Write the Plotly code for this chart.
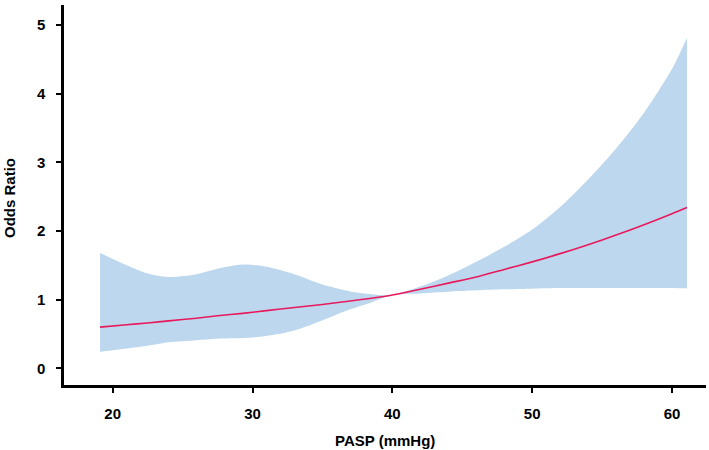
import plotly.graph_objects as go

# Data
pasp = [19.1, 21.0, 22.5, 24.0, 26.0, 27.5, 29.3, 31.0, 33.0, 35.0, 37.0, 38.5, 40.0,
        42.0, 44.0, 46.0, 48.0, 50.0, 52.0, 54.0, 56.0, 58.0, 60.0, 61.07]
odds_ratio = [0.60, 0.635, 0.66, 0.69, 0.73, 0.765, 0.80, 0.84, 0.885, 0.93, 0.98, 1.02, 1.067,
              1.15, 1.24, 1.33, 1.44, 1.55, 1.67, 1.80, 1.94, 2.09, 2.25, 2.34]
upper_ci = [1.68, 1.50, 1.38, 1.33, 1.37, 1.45, 1.51, 1.48, 1.37, 1.22, 1.12, 1.08, 1.067,
            1.19, 1.35, 1.55, 1.77, 2.02, 2.35, 2.75, 3.20, 3.72, 4.36, 4.81]
lower_ci = [0.24, 0.29, 0.33, 0.38, 0.41, 0.43, 0.44, 0.47, 0.55, 0.70, 0.86, 0.96, 1.067,
            1.09, 1.115, 1.135, 1.15, 1.16, 1.168, 1.17, 1.17, 1.17, 1.168, 1.165]

x_ticks = [20, 30, 40, 50, 60]
y_ticks = [0, 1, 2, 3, 4, 5]
x_title = "PASP (mmHg)"
y_title = "Odds Ratio"

band_color = "#BDD8EE"
line_color = "#E8195C"

fig = go.Figure()
fig.add_trace(go.Scatter(x=pasp, y=lower_ci, mode="lines",
                         line=dict(width=0, shape="spline", smoothing=0.8, color=band_color),
                         showlegend=False, hoverinfo="skip"))
fig.add_trace(go.Scatter(x=pasp, y=upper_ci, mode="lines",
                         line=dict(width=0, shape="spline", smoothing=0.8, color=band_color),
                         fill="tonexty", fillcolor=band_color, showlegend=False, hoverinfo="skip"))
fig.add_trace(go.Scatter(x=pasp, y=odds_ratio, mode="lines",
                         line=dict(width=1.6, shape="spline", smoothing=0.8, color=line_color),
                         showlegend=False))

font_tick = dict(family="Liberation Sans, Arial, sans-serif", size=15, color="black")
font_title = dict(family="Liberation Sans, Arial, sans-serif", size=15, color="black")

L, R, T, B = 64, 3, 5, 65
plot_h = 450 - T - B
plot_w = 709 - L - R

fig.update_layout(
    width=709, height=450,
    margin=dict(l=L, r=R, t=T, b=B, autoexpand=False),
    paper_bgcolor="white", plot_bgcolor="white",
    font=font_tick,
    xaxis=dict(
        range=[16.52, 62.43], tickvals=x_ticks, ticktext=[f"<b>{v}</b>" for v in x_ticks],
        showgrid=False, zeroline=False, showline=True, linecolor="black", linewidth=2.5,
        ticks="outside", ticklen=5, tickwidth=2, tickcolor="black",
        ticklabelstandoff=8, automargin=False,
    ),
    yaxis=dict(
        range=[-0.243, 5.29], tickvals=y_ticks, ticktext=[f"<b>{v}</b>" for v in y_ticks],
        showgrid=False, zeroline=False, showline=True, linecolor="black", linewidth=2.5,
        ticks="outside", ticklen=5, tickwidth=2, tickcolor="black",
        ticklabelstandoff=8, automargin=False,
    ),
    annotations=[
        dict(text=f"<b>{x_title}</b>", xref="paper", yref="paper",
             x=0.5, y=(plot_h - (440 - T)) / plot_h, xanchor="center", yanchor="middle",
             showarrow=False, font=font_title),
        dict(text=f"<b>{y_title}</b>", xref="paper", yref="paper",
             x=(9 - L) / plot_w, y=(plot_h - (198 - T)) / plot_h, xanchor="center", yanchor="middle",
             textangle=-90, showarrow=False, font=font_title),
    ],
)

fig.write_html("out.html", config={"displayModeBar": False},
               post_script="document.body.style.margin='0';document.body.style.overflow='hidden';")
